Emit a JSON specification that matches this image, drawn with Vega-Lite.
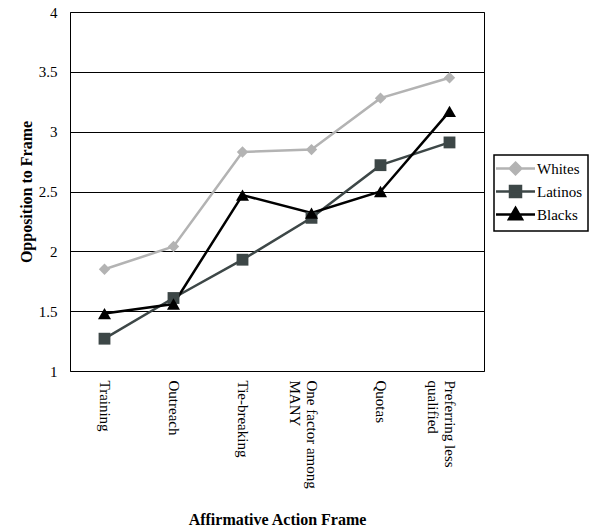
{
  "$schema": "https://vega.github.io/schema/vega-lite/v6.json",
  "width": 414,
  "height": 359,
  "autosize": {"type": "none"},
  "padding": {"left": 70, "top": 12, "right": 111, "bottom": 160},
  "background": "white",
  "config": {
    "font": "Liberation Serif",
    "axis": {"labelFont": "Liberation Serif", "titleFont": "Liberation Serif"},
    "legend": {"labelFont": "Liberation Serif"},
    "view": {"stroke": "black", "strokeWidth": 1}
  },
  "data": {
    "values": [
      {"frame": "Training", "group": "Whites", "value": 1.85},
      {"frame": "Outreach", "group": "Whites", "value": 2.04},
      {"frame": "Tie-breaking", "group": "Whites", "value": 2.83},
      {"frame": "One factor among MANY", "group": "Whites", "value": 2.85},
      {"frame": "Quotas", "group": "Whites", "value": 3.28},
      {"frame": "Preferring less qualified", "group": "Whites", "value": 3.45},
      {"frame": "Training", "group": "Latinos", "value": 1.27},
      {"frame": "Outreach", "group": "Latinos", "value": 1.61},
      {"frame": "Tie-breaking", "group": "Latinos", "value": 1.93},
      {"frame": "One factor among MANY", "group": "Latinos", "value": 2.28},
      {"frame": "Quotas", "group": "Latinos", "value": 2.72},
      {"frame": "Preferring less qualified", "group": "Latinos", "value": 2.91},
      {"frame": "Training", "group": "Blacks", "value": 1.48},
      {"frame": "Outreach", "group": "Blacks", "value": 1.56},
      {"frame": "Tie-breaking", "group": "Blacks", "value": 2.47},
      {"frame": "One factor among MANY", "group": "Blacks", "value": 2.32},
      {"frame": "Quotas", "group": "Blacks", "value": 2.5},
      {"frame": "Preferring less qualified", "group": "Blacks", "value": 3.17}
    ]
  },
  "encoding": {
    "x": {
      "field": "frame",
      "type": "nominal",
      "sort": ["Training", "Outreach", "Tie-breaking", "One factor among MANY", "Quotas", "Preferring less qualified"],
      "scale": {"type": "point", "padding": 0.5},
      "axis": {
        "title": "Affirmative Action Frame",
        "titleFontSize": 16,
        "titleFontWeight": "bold",
        "titleColor": "black",
        "titleY": 140,
        "labelAngle": 90,
        "labelFontSize": 15,
        "labelColor": "black",
        "labelPadding": 9,
        "labelLimit": 0,
        "labelExpr": "datum.value == 'One factor among MANY' ? ['One factor among', 'MANY'] : datum.value == 'Preferring less qualified' ? ['Preferring less', 'qualified'] : datum.value",
        "ticks": false,
        "domain": false,
        "grid": false
      }
    },
    "y": {
      "field": "value",
      "type": "quantitative",
      "scale": {"domain": [1, 4]},
      "axis": {
        "title": "Opposition to Frame",
        "titleFontSize": 16,
        "titleFontWeight": "bold",
        "titleColor": "black",
        "titleX": -36,
        "values": [1, 1.5, 2, 2.5, 3, 3.5, 4],
        "format": "~g",
        "labelFontSize": 15,
        "labelColor": "black",
        "labelPadding": 13,
        "ticks": false,
        "domain": false,
        "grid": true,
        "gridColor": "black",
        "gridOpacity": 1,
        "gridWidth": 1
      }
    },
    "color": {
      "field": "group",
      "type": "nominal",
      "sort": ["Whites", "Latinos", "Blacks"],
      "scale": {"domain": ["Whites", "Latinos", "Blacks"], "range": ["#b3b3b3", "#3d4747", "#000000"]},
      "legend": {
        "title": null,
        "orient": "none",
        "legendX": 424,
        "legendY": 143,
        "strokeColor": "black",
        "padding": 6,
        "labelFontSize": 15,
        "labelColor": "black",
        "symbolSize": 100,
        "symbolOffset": 8,
        "labelOffset": 14,
        "rowPadding": 1,
        "symbolStrokeWidth": 2.5,
        "encode": {
          "legend": {
            "update": {
              "strokeWidth": {"value": 1.5}
            }
          },
          "symbols": {
            "update": {
              "shape": {"signal": "datum.value == 'Whites' ? 'M-3.9,0L3.9,0M0,-1.15L1.15,0L0,1.15L-1.15,0Z' : datum.value == 'Latinos' ? 'M-3.9,0L3.9,0M-1.1,-1.1L1.1,-1.1L1.1,1.1L-1.1,1.1Z' : 'M-3.9,0L3.9,0M0,-1.3L1.3,0.95L-1.3,0.95Z'"},
              "stroke": {"signal": "datum.value == 'Whites' ? '#b3b3b3' : datum.value == 'Latinos' ? '#3d4747' : '#000000'"},
              "fill": {"signal": "datum.value == 'Whites' ? '#b3b3b3' : datum.value == 'Latinos' ? '#3d4747' : '#000000'"},
              "strokeWidth": {"value": 2.5},
              "opacity": {"value": 1}
            }
          }
        }
      }
    }
  },
  "layer": [
    {
      "mark": {"type": "line", "strokeWidth": 2.5},
      "encoding": {"detail": {"field": "group"}}
    },
    {
      "transform": [{"filter": "datum.group == 'Whites'"}],
      "mark": {"type": "point", "filled": true, "opacity": 1, "size": 130, "shape": "diamond"}
    },
    {
      "transform": [{"filter": "datum.group == 'Latinos'"}],
      "mark": {"type": "point", "filled": true, "opacity": 1, "size": 140, "shape": "square"}
    },
    {
      "transform": [{"filter": "datum.group == 'Blacks'"}],
      "mark": {"type": "point", "filled": true, "opacity": 1, "size": 170, "shape": "triangle-up"}
    }
  ]
}
